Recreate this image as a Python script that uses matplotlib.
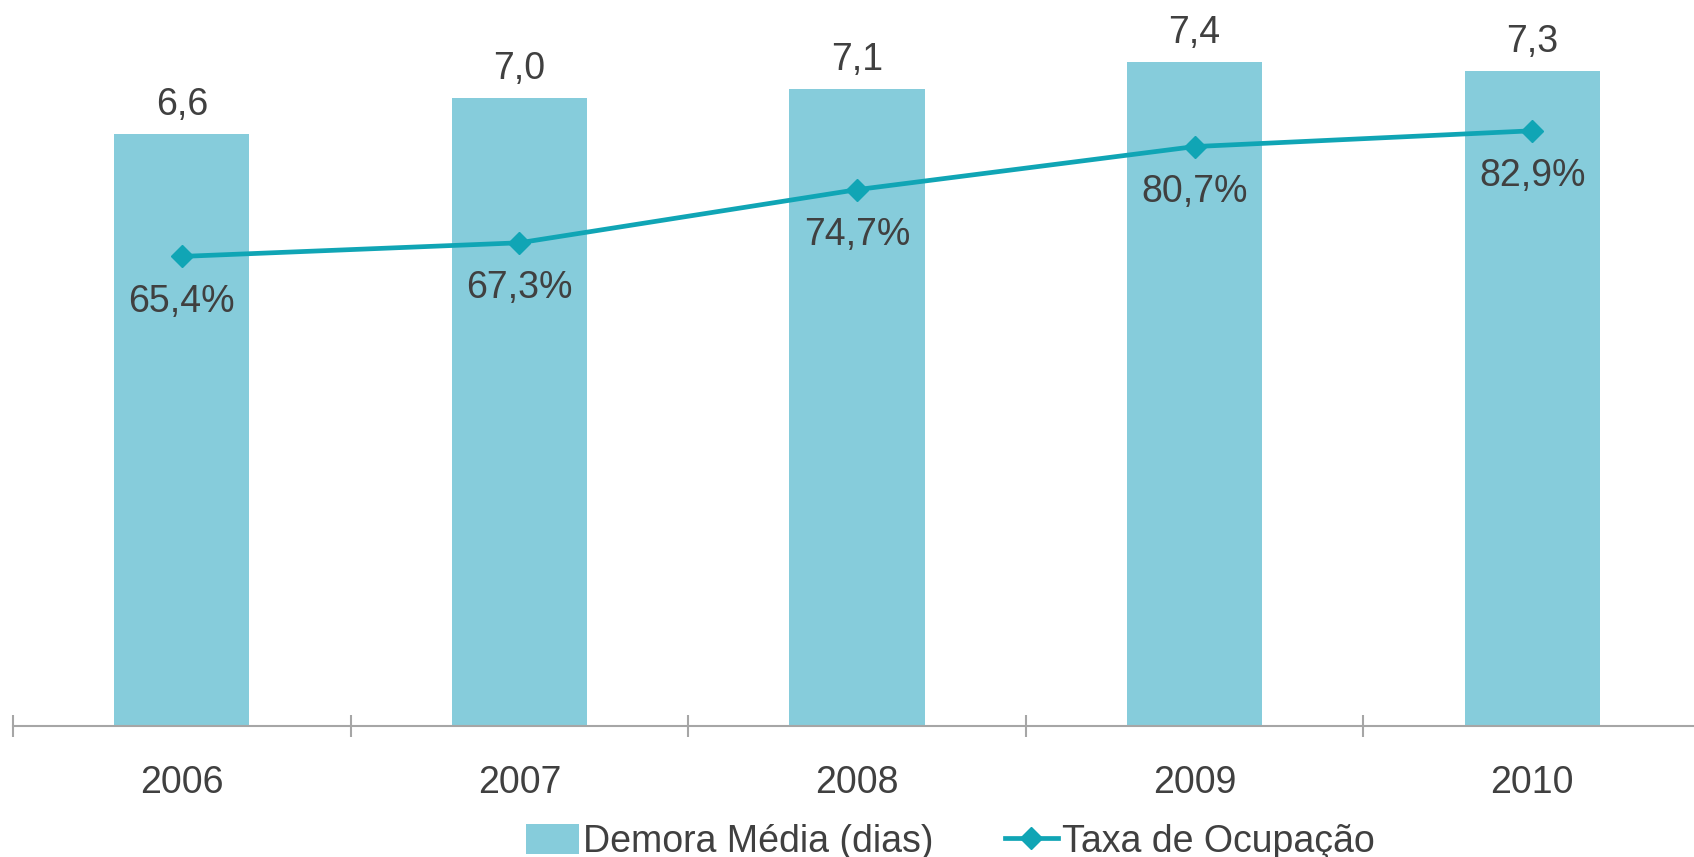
import matplotlib.pyplot as plt
import numpy as np

plt.rcParams['font.family'] = ['Liberation Sans', 'DejaVu Sans']

# Data
years = ['2006', '2007', '2008', '2009', '2010']
demora_media = [6.6, 7.0, 7.1, 7.4, 7.3]
taxa_ocupacao = [65.4, 67.3, 74.7, 80.7, 82.9]

BAR_COLOR = '#86CCDB'
LINE_COLOR = '#10A5B5'
TEXT_COLOR = '#404040'
AXIS_COLOR = '#A6A6A6'
FS = 27

W, H = 1694, 857
fig = plt.figure(figsize=(W / 100, H / 100), dpi=100)

# axes box in pixels: x 13 -> 1701, y 8 -> 726
ax = fig.add_axes([13 / W, (H - 726) / H, 1688 / W, (726 - 8) / H])
ax2 = ax.twinx()

x = np.arange(len(years))
bars = ax.bar(x, demora_media, width=0.4, color=BAR_COLOR, zorder=2,
              label='Demora Média (dias)')
ax.bar_label(bars, labels=[f'{v:.1f}'.replace('.', ',') for v in demora_media],
             padding=8, fontsize=FS, color=TEXT_COLOR)

line, = ax2.plot(x, taxa_ocupacao, color=LINE_COLOR, lw=3.4, marker='D',
                 markersize=11, zorder=3, label='Taxa de Ocupação')
for xi, v in zip(x, taxa_ocupacao):
    ax2.annotate(f'{v:.1f}%'.replace('.', ','), (xi, v), xytext=(0, -32.5),
                 textcoords='offset points', ha='center', va='center',
                 fontsize=FS, color=TEXT_COLOR)

ax.set_xlim(-0.5, len(years) - 0.5)
ax.set_ylim(0, 8)
ax2.set_ylim(0, 100)

for a in (ax, ax2):
    for side in ('top', 'right', 'left'):
        a.spines[side].set_visible(False)
    a.set_yticks([])
ax2.spines['bottom'].set_visible(False)
ax.spines['bottom'].set_color(AXIS_COLOR)
ax.spines['bottom'].set_linewidth(1.5)

# category boundaries as major ticks, year labels on minor ticks
ax.set_xticks(np.arange(-0.5, len(years), 1.0))
ax.set_xticklabels([])
ax.tick_params(axis='x', which='major', direction='inout', length=16,
               width=1.5, color=AXIS_COLOR)
ax.set_xticks(x, minor=True)
ax.set_xticklabels(years, minor=True)
ax.tick_params(axis='x', which='minor', length=0, pad=28,
               labelsize=FS, labelcolor=TEXT_COLOR)

fig.legend(handles=[bars, line], loc='center', bbox_to_anchor=(950 / W, 1 - 842 / H),
           ncol=2, frameon=False, fontsize=27, handlelength=1.42,
           handleheight=0.85, handletextpad=0.1, columnspacing=1.9,
           labelcolor=TEXT_COLOR, borderpad=0, borderaxespad=0)

fig.savefig('out.png', dpi=100, facecolor='white')
